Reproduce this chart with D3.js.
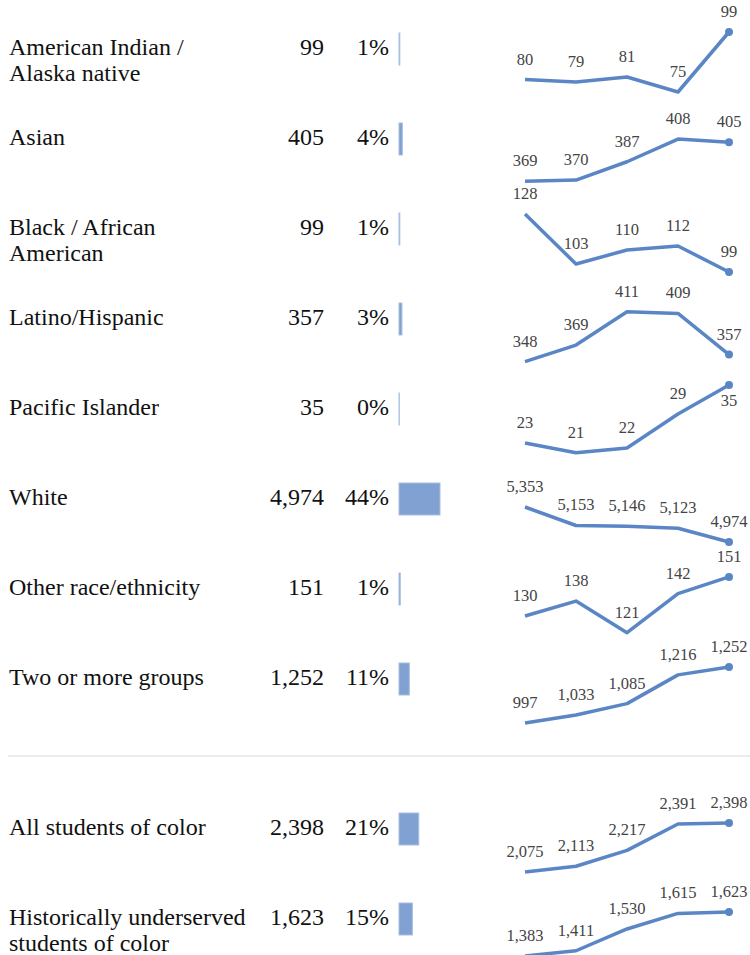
<!DOCTYPE html>
<html>
<head>
<meta charset="utf-8">
<script src="https://cdn.jsdelivr.net/npm/d3@7/dist/d3.min.js"></script>
<style>
  body { margin: 0; background: #fff; }
</style>
</head>
<body>
<div id="chart_area"></div>
<script>
// rows of the table
var groups = [
    ["American Indian /", "Alaska native"],
    ["Asian"],
    ["Black / African", "American"],
    ["Latino/Hispanic"],
    ["Pacific Islander"],
    ["White"],
    ["Other race/ethnicity"],
    ["Two or more groups"],
    ["All students of color"],
    ["Historically underserved", "students of color"]
];
var current = [99, 405, 99, 357, 35, 4974, 151, 1252, 2398, 1623];
var percent = [1, 4, 1, 3, 0, 44, 1, 11, 21, 15];

// five years of counts for the trend lines
var periods = [0, 1, 2, 3, 4];
var trend = [
    [80, 79, 81, 75, 99],
    [369, 370, 387, 408, 405],
    [128, 103, 110, 112, 99],
    [348, 369, 411, 409, 357],
    [23, 21, 22, 29, 35],
    [5353, 5153, 5146, 5123, 4974],
    [130, 138, 121, 142, 151],
    [997, 1033, 1085, 1216, 1252],
    [2075, 2113, 2217, 2391, 2398],
    [1383, 1411, 1530, 1615, 1623]
];
// extent of each trend line's value axis
var trendLow  = [71, 359, 94, 335, 19.1, 4866, 116, 956, 2009, 1295];
var trendHigh = [103, 433, 134, 436, 35.6, 5732, 159, 1320, 2536, 1732];

var width = 750, height = 955;
var rowH = 90, slotH = 80;
var blue = "#5b86c5";

var svg = d3.select("#chart_area").append("svg")
    .attr("width", width)
    .attr("height", height)
    .attr("font-family", "'Liberation Serif', Tinos, 'Times New Roman', 'DejaVu Serif', serif");

// top of each row slot, with a gap before the summary rows
function rowTop(i) {
    return i < 8 ? 22 + i * rowH : 802 + (i - 8) * rowH;
}

var fmt = d3.format(",");
var barX = d3.scaleLinear().domain([0, d3.max(current)]).range([0, 41]);
var px = d3.scalePoint().domain(periods).range([525, 729]);

var row = svg.selectAll("g.row")
    .data(groups)
    .enter().append("g")
    .attr("class", "row")
    .attr("transform", function(d, i) { return "translate(0," + rowTop(i) + ")"; });

row.append("text")
    .attr("x", 9)
    .attr("y", 33)
    .attr("font-size", 24)
    .attr("fill", "#111")
    .selectAll("tspan")
    .data(function(d) { return d; })
    .enter().append("tspan")
    .attr("x", 9)
    .attr("dy", function(d, j) { return j == 0 ? 0 : 26; })
    .text(function(d) { return d; });

row.append("text")
    .attr("x", 324)
    .attr("y", 33)
    .attr("font-size", 24)
    .attr("text-anchor", "end")
    .attr("fill", "#111")
    .text(function(d, i) { return fmt(current[i]); });

row.append("text")
    .attr("x", 389)
    .attr("y", 33)
    .attr("font-size", 24)
    .attr("text-anchor", "end")
    .attr("fill", "#111")
    .text(function(d, i) { return percent[i] + "%"; });

row.append("rect")
    .attr("x", 399)
    .attr("y", 11)
    .attr("height", 32)
    .attr("width", function(d, i) { return barX(current[i]); })
    .attr("fill", "#80a1d2")
    .attr("stroke", "#a7bfe2")
    .attr("stroke-width", 1);

// separator before summary rows
svg.append("line")
    .attr("x1", 8).attr("x2", 750)
    .attr("y1", 756).attr("y2", 756)
    .attr("stroke", "#ececec")
    .attr("stroke-width", 2);

// trend lines, absolute coordinates
var yScales = trend.map(function(t, i) {
    var top = rowTop(i);
    return d3.scaleLinear().domain([trendLow[i], trendHigh[i]]).range([top + slotH, top]);
});

var line = d3.line()
    .x(function(d, j) { return px(periods[j]); })
    .y(function(d) { return d.y; });

var spark = svg.append("g").attr("class", "sparks");

trend.forEach(function(t, i) {
    var y = yScales[i];
    var pts = t.map(function(v) { return {v: v, y: y(v)}; });

    spark.append("path")
        .datum(pts)
        .attr("d", line)
        .attr("fill", "none")
        .attr("stroke", blue)
        .attr("stroke-width", 3.5)
        .attr("stroke-linejoin", "round");

    spark.append("circle")
        .attr("cx", px(periods[periods.length - 1]))
        .attr("cy", pts[pts.length - 1].y)
        .attr("r", 4)
        .attr("fill", blue);

    spark.selectAll("text.lbl" + i)
        .data(pts)
        .enter().append("text")
        .attr("class", "lbl" + i)
        .attr("x", function(d, j) { return px(periods[j]); })
        .attr("y", function(d, j) {
            // flip below if it would sit on the previous row's point
            if (i > 0) {
                var prevY = yScales[i - 1](trend[i - 1][j]);
                if (d.y - 27 < prevY + 5) return d.y + 21;
            }
            return d.y - 15;
        })
        .attr("text-anchor", "middle")
        .attr("font-size", 16.5)
        .attr("fill", "#444")
        .text(function(d) { return fmt(d.v); });
});
</script>
</body>
</html>
